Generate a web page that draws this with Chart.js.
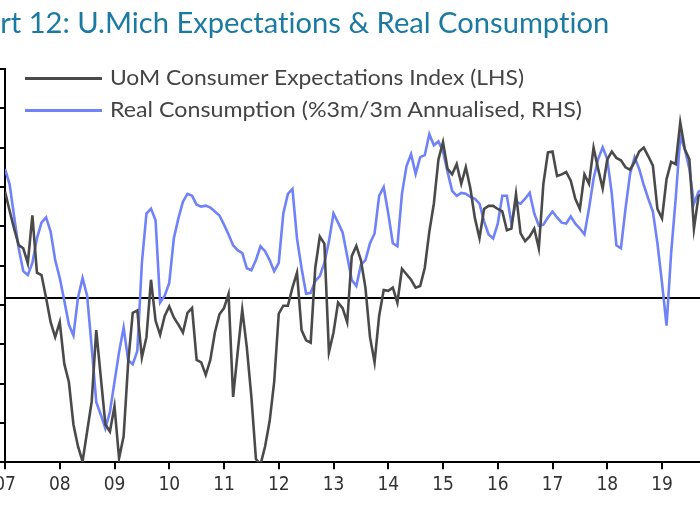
<!DOCTYPE html>
<html>
<head>
<meta charset="utf-8">
<script src="https://cdn.jsdelivr.net/npm/chart.js@4.4.1/dist/chart.umd.min.js"></script>
<style>
  html, body { margin: 0; padding: 0; background: #fff; overflow: hidden; }
  #wrap { position: relative; width: 700px; height: 525px; overflow: hidden; }
  #chart { position: absolute; left: 0; top: 0; }
  .title {
    position: absolute; top: 4px; left: 0; transform-origin: 0 0;
    font: 29px Lato, 'Open Sans', sans-serif; color: #1a7aa2; white-space: nowrap;
    font-variant-ligatures: none;
  }
  .legend { position: absolute; left: 25px; top: 62px; }
  .item { position: relative; height: 32px; }
  .swatch { position: absolute; left: 0; top: 15px; width: 77px; height: 3px; }
  .label {
    position: absolute; left: 85px; top: 2px; white-space: nowrap;
    font: 21px Lato, 'Open Sans', sans-serif;
    color: #444; transform-origin: 0 50%;
  }
</style>
</head>
<body>
<div id="wrap">
  <canvas id="chart" width="700" height="525"></canvas>
  <div class="title" id="title"><span id="cut">Cha</span>rt 12: U.Mich Expectations &amp; Real Consumption</div>
  <div class="legend">
    <div class="item"><span class="swatch" style="background:#4a4a4a"></span><span class="label" data-w="414">UoM Consumer Expectations Index (LHS)</span></div>
    <div class="item"><span class="swatch" style="background:#6f82f7"></span><span class="label" data-w="472">Real Consumption (%3m/3m Annualised, RHS)</span></div>
  </div>
</div>
<script>
// monthly, Jan 2007 onwards
const START_YEAR = 2007

const tickLabels = ['07', '08', '09', '10', '11', '12', '13', '14', '15', '16', '17', '18', '19']

// UoM Consumer Expectations Index (LHS)
const expectations = [
  84.4, 82.0, 79.7, 77.6, 77.2, 75.3, 81.4, 74.1, 73.8, 70.9, 67.8, 65.9,
  67.8, 62.5, 60.2, 54.8, 52.0, 50.1, 53.9, 57.7, 66.8, 60.8, 54.8, 53.9,
  57.1, 50.5, 53.3, 62.7, 69.0, 69.3, 63.3, 65.9, 73.2, 68.0, 66.2, 68.6,
  69.8, 68.4, 67.5, 66.5, 69.0, 69.6, 63.0, 62.7, 61.1, 63.0, 66.5, 68.8,
  69.6, 71.4, 58.3, 64.0, 69.4, 64.6, 58.3, 50.4, 49.7, 52.0, 55.2, 60.2,
  68.9, 69.9, 69.9, 72.2, 74.1, 66.8, 65.5, 65.2, 74.7, 78.7, 77.8, 64.0,
  66.5, 70.3, 69.6, 67.8, 76.2, 77.5, 75.7, 72.2, 65.9, 62.7, 68.6, 71.9,
  71.8, 72.2, 70.3, 74.6, 73.9, 73.2, 72.2, 72.4, 74.7, 79.3, 82.9, 88.5,
  90.7, 87.3, 86.6, 87.9, 85.4, 87.5, 84.8, 81.0, 78.5, 82.2, 82.6, 82.6,
  82.2, 81.9, 79.5, 79.7, 84.1, 79.1, 78.1, 78.7, 79.7, 77.2, 85.4, 89.4,
  89.5, 86.4, 86.6, 86.9, 85.8, 83.5, 82.2, 86.6, 85.4, 90.0, 87.3, 84.8,
  88.5, 89.5, 88.7, 88.4, 87.5, 87.2, 88.2, 89.5, 90.0, 88.9, 87.7, 82.2,
  81.0, 86.0, 88.2, 87.9, 93.2, 89.8, 88.5, 79.7, 83.8, 84.4,
]

// Real Consumption, %3m/3m annualised (RHS)
const realConsumption = [
  3.95, 3.49, 2.50, 1.53, 0.83, 0.71, 1.08, 1.83, 2.31, 2.47, 2.04, 1.17,
  0.62, -0.07, -0.80, -1.13, 0.02, 0.62, 0.08, -1.49, -3.16, -3.55, -3.97, -3.46,
  -2.55, -1.64, -0.89, -1.89, -2.01, -1.61, 1.08, 2.59, 2.74, 2.38, -0.13, 0.08,
  0.47, 1.83, 2.44, 2.95, 3.19, 3.13, 2.86, 2.80, 2.83, 2.77, 2.65, 2.53,
  2.25, 1.95, 1.62, 1.47, 1.38, 0.92, 0.86, 1.17, 1.59, 1.44, 1.17, 0.83,
  1.08, 2.59, 3.19, 3.34, 1.83, 0.92, 0.14, 0.17, 0.53, 0.68, 1.08, 1.74,
  2.59, 2.31, 2.01, 1.29, 0.56, 0.38, 1.02, 1.17, 1.68, 1.98, 3.13, 3.40,
  2.59, 1.68, 1.59, 3.19, 4.04, 4.40, 3.80, 4.31, 4.37, 5.01, 4.67, 4.79,
  4.49, 3.86, 3.28, 3.13, 3.22, 3.19, 3.10, 3.04, 2.89, 2.35, 1.95, 1.83,
  2.28, 3.13, 3.13, 2.28, 2.95, 2.89, 3.04, 3.22, 2.59, 2.22, 2.25, 2.47,
  2.65, 2.47, 2.31, 2.28, 2.50, 2.28, 2.13, 1.95, 2.74, 3.65, 4.25, 4.61,
  4.25, 3.19, 1.62, 1.53, 2.74, 3.80, 4.31, 3.95, 3.46, 3.04, 2.65, 1.68,
  0.47, -0.83, 1.38, 3.04, 4.94, 4.55, 3.95, 2.89, 3.25, 3.34,
]

const toPoints = (values) => values.map((y, i) => ({ x: START_YEAR + i / 12, y }))

const FONT = "'Liberation Sans Narrow', 'DejaVu Sans Condensed', Lato, sans-serif"

// the picture is cropped, so axis paddings must not push the plot area around
const noPadding = (scale) => {
  scale.paddingLeft = 0
  scale.paddingRight = 0
  scale.paddingTop = 0
  scale.paddingBottom = 0
}

new Chart(document.getElementById('chart'), {
  type: 'line',
  data: {
    datasets: [
      {
        label: 'UoM Consumer Expectations Index (LHS)',
        data: toPoints(expectations),
        yAxisID: 'y',
        borderColor: '#4a4a4a',
        borderWidth: 2.6,
        pointRadius: 0,
        tension: 0,
      },
      {
        label: 'Real Consumption (%3m/3m Annualised, RHS)',
        data: toPoints(realConsumption),
        yAxisID: 'y1',
        borderColor: '#6f82f7',
        borderWidth: 2.6,
        pointRadius: 0,
        tension: 0,
      },
    ],
  },
  options: {
    responsive: false,
    animation: false,
    devicePixelRatio: 1,
    layout: { padding: { top: 69, bottom: 25, left: 0, right: 0 } },
    plugins: { legend: { display: false }, tooltip: { enabled: false } },
    scales: {
      x: {
        type: 'linear',
        min: 2007,
        max: 2019.694,
        afterFit: noPadding,
        ticks: {
          stepSize: 1,
          includeBounds: false,
          autoSkip: false,
          maxRotation: 0,
          padding: 4,
          color: '#333',
          font: { family: FONT, size: 19 },
          callback: (v) => tickLabels[Math.round(v) - START_YEAR] ?? '',
        },
        grid: { drawOnChartArea: false, tickLength: 7, color: '#000', lineWidth: 2 },
        border: { color: '#000', width: 2 },
      },
      y: {
        position: 'left',
        min: 50,
        max: 100,
        afterFit: noPadding,
        ticks: { stepSize: 5, display: false },
        grid: { drawOnChartArea: false, tickLength: 5, color: '#000', lineWidth: 2 },
        border: { color: '#000', width: 2 },
      },
      y1: {
        position: 'right',
        min: -5,
        max: 7,
        afterFit: noPadding,
        ticks: { stepSize: 1, display: false },
        grid: {
          drawTicks: false,
          lineWidth: 2,
          color: (ctx) => (ctx.tick && ctx.tick.value === 0 ? '#000' : 'rgba(0,0,0,0)'),
        },
        border: { display: false },
      },
    },
  },
})

// the title starts mid-word in the crop; legend text is condensed
const TITLE_VISIBLE_WIDTH = 609

const fitText = () => {
  const title = document.getElementById('title')
  const hidden = document.getElementById('cut').getBoundingClientRect().width
  const full = title.getBoundingClientRect().width
  const k = TITLE_VISIBLE_WIDTH / (full - hidden)
  title.style.transform = `scaleX(${k})`
  title.style.left = `${-hidden * k}px`

  document.querySelectorAll('.label').forEach((el) => {
    const natural = el.getBoundingClientRect().width
    el.style.transform = `scaleX(${Number(el.dataset.w) / natural})`
  })
}
if (document.fonts && document.fonts.ready) document.fonts.ready.then(fitText)
else fitText()
</script>
</body>
</html>
